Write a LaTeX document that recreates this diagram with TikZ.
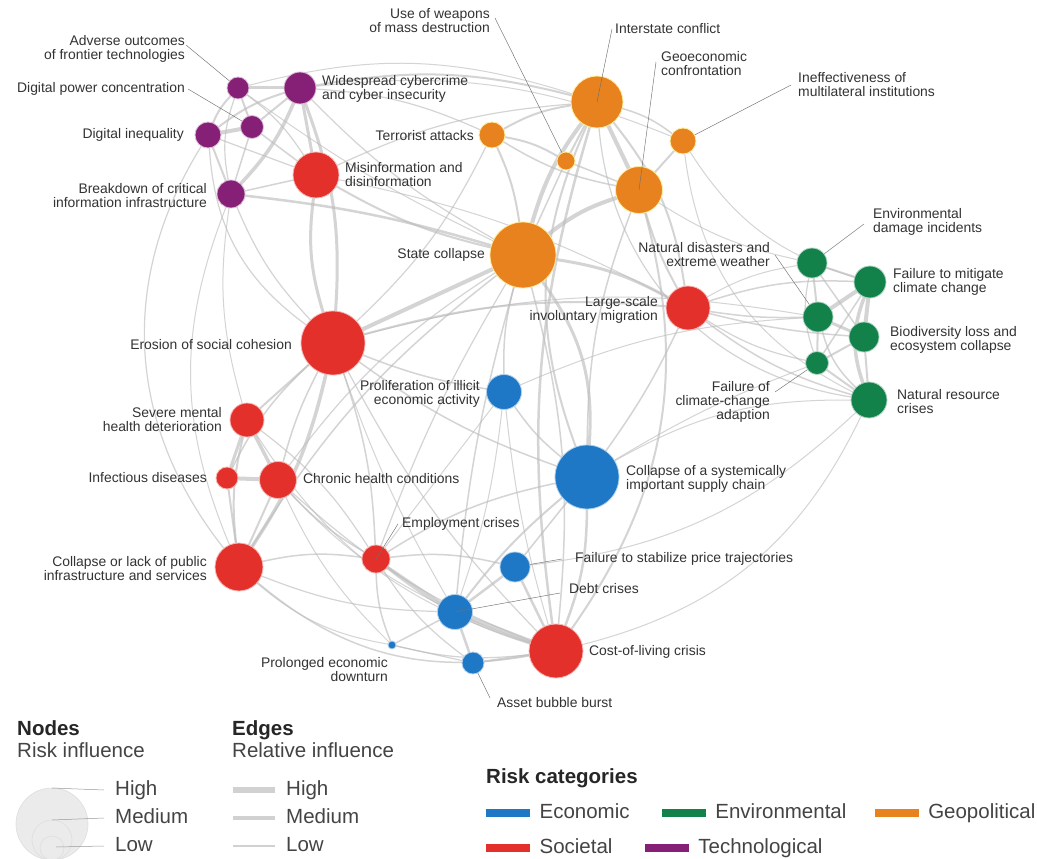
\documentclass[tikz,border=0pt]{standalone}
\usepackage{fontspec}
\setmainfont{Liberation Sans}
\usetikzlibrary{positioning,backgrounds}
\definecolor{cEcon}{HTML}{1E78C6}
\definecolor{cEnv}{HTML}{12824A}
\definecolor{cGeo}{HTML}{E8821F}
\definecolor{cSoc}{HTML}{E4302B}
\definecolor{cTech}{HTML}{862077}
\definecolor{cEdge}{HTML}{BDBDBD}
\definecolor{cText}{HTML}{333333}
\definecolor{cLead}{HTML}{707070}
\definecolor{cLeg}{HTML}{444444}
\newcommand{\lblfont}{\fontsize{13.9}{14}\selectfont}
\newcommand{\legfont}{\fontsize{20.5}{22}\selectfont}

\begin{document}
\begin{tikzpicture}[x=1pt, y=-1pt,
      risk/.style={circle, inner sep=0pt, minimum size=#1, line width=0.8pt},
      econ/.style={fill=cEcon, draw=cEcon!35!white},
      envir/.style={fill=cEnv, draw=cEnv!35!white},
      geopol/.style={fill=cGeo, draw=cGeo!35!yellow!40!white},
      societal/.style={fill=cSoc, draw=cSoc!35!white},
      techno/.style={fill=cTech, draw=cTech!30!white},
      lbl/.style={font=\lblfont, text=cText, inner sep=1pt, align=left},
      lblr/.style={lbl, align=right},
      lead/.style={draw=cLead, line width=0.45pt},
      lk/.style={draw=cEdge, line width=#1, line cap=round, draw opacity=0.65},
      swatch/.style={rectangle, inner sep=0pt, minimum width=44pt, minimum height=8pt},
      legtxt/.style={font=\legfont, text=cLeg, inner sep=0pt, text height=14pt, text depth=4pt},
      leghead/.style={legtxt, font=\legfont\bfseries, text=black!85},
      legc/.style={fill=black!8, draw=black!13, line width=0.6pt},
      legln/.style={draw=black!40, line width=0.5pt}
  ]
    \useasboundingbox (0,0) rectangle (1037,859);

    % risks
    \node[risk=22pt, techno] (adv) at (238,88) {};
    \node[risk=32pt, techno] (cyber) at (300,88) {};
    \node[risk=23pt, techno] (dpc) at (252,127) {};
    \node[risk=26pt, techno] (dineq) at (208,135) {};
    \node[risk=28pt, techno] (bcii) at (231,194) {};
    \node[risk=46pt, societal] (misinfo) at (316,175) {};
    \node[risk=64pt, societal] (erosion) at (333,343) {};
    \node[risk=34pt, societal] (mental) at (247,420) {};
    \node[risk=22pt, societal] (infect) at (227,478) {};
    \node[risk=37pt, societal] (chronic) at (278,480) {};
    \node[risk=48pt, societal] (pubinf) at (239,567) {};
    \node[risk=28pt, societal] (employ) at (376,559) {};
    \node[risk=44pt, societal] (migr) at (688,308) {};
    \node[risk=54pt, societal] (col) at (556,651) {};
    \node[risk=26pt, geopol] (terror) at (492,135) {};
    \node[risk=52pt, geopol] (interstate) at (597,102) {};
    \node[risk=18pt, geopol] (wmd) at (566,161) {};
    \node[risk=26pt, geopol] (ineff) at (683,141) {};
    \node[risk=47pt, geopol] (geoc) at (639,190) {};
    \node[risk=66pt, geopol] (state) at (523,255) {};
    \node[risk=35pt, econ] (illicit) at (504,392) {};
    \node[risk=64pt, econ] (supply) at (587,477) {};
    \node[risk=30pt, econ] (price) at (515,567) {};
    \node[risk=35pt, econ] (debt) at (455,612) {};
    \node[risk=22pt, econ] (asset) at (473,663) {};
    \node[risk=8pt, econ] (prolonged) at (392,645) {};
    \node[risk=30pt, envir] (envdmg) at (812,263) {};
    \node[risk=32pt, envir] (mitig) at (870,282) {};
    \node[risk=30pt, envir] (natdis) at (818,317) {};
    \node[risk=30pt, envir] (biod) at (864,337) {};
    \node[risk=23pt, envir] (adapt) at (817,363) {};
    \node[risk=36pt, envir] (natres) at (869,400) {};

    % labels
    \node[lblr, anchor=east] (advL) at (186,49) {Adverse outcomes\\of frontier technologies};
    \node[lbl, anchor=east] (dpcL) at (186,89) {Digital power concentration};
    \node[lbl, anchor=east] (dineqL) at (185,135) {Digital inequality};
    \node[lblr, anchor=east] (bciiL) at (208,196) {Breakdown of critical\\information infrastructure};
    \node[lbl, anchor=west] (cyberL) at (321,89) {Widespread cybercrime\\and cyber insecurity};
    \node[lbl, anchor=west] (misinfoL) at (344,175) {Misinformation and\\disinformation};
    \node[lblr, anchor=east] (wmdL) at (491,21) {Use of weapons\\of mass destruction};
    \node[lbl, anchor=west] (interstateL) at (614,29) {Interstate conflict};
    \node[lbl, anchor=west] (geoL) at (660,64) {Geoeconomic\\confrontation};
    \node[lbl, anchor=west] (ineffL) at (797,85) {Ineffectiveness of\\multilateral institutions};
    \node[lbl, anchor=east] (terrorL) at (475,136) {Terrorist attacks};
    \node[lbl, anchor=east] (stateL) at (486,255) {State collapse};
    \node[lbl, anchor=west] (envdmgL) at (872,222) {Environmental\\damage incidents};
    \node[lblr, anchor=east] (natdisL) at (771,255) {Natural disasters and\\extreme weather};
    \node[lbl, anchor=west] (mitigL) at (892,282) {Failure to mitigate\\climate change};
    \node[lblr, anchor=east] (migrL) at (659,310) {Large-scale\\involuntary migration};
    \node[lbl, anchor=west] (biodL) at (889,340) {Biodiversity loss and\\ecosystem collapse};
    \node[lbl, anchor=east] (erosionL) at (293,345) {Erosion of social cohesion};
    \node[lblr, anchor=east] (illicitL) at (481,394) {Proliferation of illicit\\economic activity};
    \node[lblr, anchor=east] (adaptL) at (771,402) {Failure of\\climate-change\\adaption};
    \node[lbl, anchor=west] (natresL) at (896,402) {Natural resource\\crises};
    \node[lblr, anchor=east] (mentalL) at (223,420) {Severe mental\\health deterioration};
    \node[lbl, anchor=east] (infectL) at (208,478) {Infectious diseases};
    \node[lbl, anchor=west] (chronicL) at (302,479) {Chronic health conditions};
    \node[lbl, anchor=west] (supplyL) at (625,479) {Collapse of a systemically\\important supply chain};
    \node[lbl, anchor=west] (employL) at (401,524) {Employment crises};
    \node[lbl, anchor=west] (priceL) at (574,559) {Failure to stabilize price trajectories};
    \node[lblr, anchor=east] (pubinfL) at (208,569) {Collapse or lack of public\\infrastructure and services};
    \node[lbl, anchor=west] (debtL) at (568,589) {Debt crises};
    \node[lbl, anchor=west] (colL) at (588,652) {Cost-of-living crisis};
    \node[lblr, anchor=east] (prolongedL) at (389,670) {Prolonged economic\\downturn};
    \node[lbl, anchor=west] (assetL) at (496,703) {Asset bubble burst};

    \begin{scope}[on background layer]
      \fill[white] (0,0) rectangle (1037,859);
      % technological cluster
      \foreach \a/\b/\w/\c in {adv/cyber/3/0, adv/dpc/2/0, adv/dineq/2/-10, dineq/dpc/4/0, dineq/cyber/2/10,
          dpc/cyber/2/0, bcii/cyber/3.5/-10, bcii/dineq/2/0, bcii/adv/1.2/15, bcii/dpc/1.5/0,
          cyber/misinfo/3/0, dpc/misinfo/1.5/0, dineq/misinfo/1.2/0, bcii/misinfo/1.5/0, adv/misinfo/1.2/10,
          cyber/erosion/3/12, misinfo/erosion/3/-12, dineq/erosion/1.2/-25, bcii/erosion/1.2/-10,
          dineq/pubinf/1.2/-35, bcii/pubinf/1/-22, bcii/mental/1/-12, cyber/terror/1.2/10, cyber/interstate/2/12,
          adv/interstate/1/16, misinfo/state/2/-8, bcii/state/2.5/5, misinfo/migr/1/8, cyber/state/1.2/-8,
          adv/state/1/-5, misinfo/interstate/1.2/10, cyber/ineff/1/14}
        \draw[lk=\w pt] (\a) to[bend left=\c] (\b);
      % geopolitical cluster
      \foreach \a/\b/\w/\c in {interstate/geoc/4/0, interstate/state/4/-10, interstate/terror/2/-10, interstate/wmd/2/0,
          interstate/ineff/1.5/10, geoc/state/4/-10, geoc/ineff/2/0, terror/state/2/8, wmd/state/1.5/0,
          terror/wmd/2/10, terror/geoc/1.5/-10, wmd/geoc/1.5/0, interstate/migr/2/15, geoc/migr/2/-6,
          state/migr/3/10, state/erosion/4/0, state/illicit/1.5/-8, state/supply/3/20, interstate/supply/2/-22,
          geoc/supply/1.5/-10, geoc/col/2/25, interstate/natres/1.2/-38, ineff/natres/1/-28, ineff/mitig/1/-20,
          state/pubinf/1.5/-10, state/chronic/1.2/-10, state/employ/1.2/-5, state/debt/1.5/-5, state/col/1.5/10,
          interstate/col/2.5/-12, terror/erosion/1.2/10, geoc/envdmg/1/-10}
        \draw[lk=\w pt] (\a) to[bend left=\c] (\b);
      % environmental cluster
      \foreach \a/\b/\w/\c in {envdmg/mitig/2/0, envdmg/natdis/2/0, mitig/natdis/4/0, mitig/biod/4/0, natdis/biod/3/0,
          biod/adapt/2/0, adapt/natdis/2/0, mitig/natres/3.5/-20, biod/natres/2/0, adapt/natres/2/0,
          natdis/natres/1.5/-15, envdmg/biod/1.5/0, envdmg/adapt/1.2/-15, mitig/adapt/1.5/0,
          migr/natdis/1.5/-5, migr/mitig/1.5/10, migr/biod/1.5/-5, migr/natres/1.5/-10, migr/adapt/1.2/-10,
          migr/envdmg/1/10, supply/natres/1/15, supply/adapt/1/5, col/natres/1/-25, illicit/natdis/1/10,
          erosion/natdis/1/12, price/natres/1/-18}
        \draw[lk=\w pt] (\a) to[bend left=\c] (\b);
      % societal cluster
      \foreach \a/\b/\w/\c in {erosion/mental/2/0, erosion/chronic/1.5/-6, erosion/pubinf/3.5/10, erosion/employ/1.5/8,
          erosion/migr/2/10, erosion/illicit/1.5/-6, erosion/supply/1.5/-8, erosion/infect/1.5/-10,
          mental/chronic/3.5/0, mental/infect/3/0, infect/chronic/4/0, chronic/pubinf/2/0, infect/pubinf/2/0,
          mental/pubinf/2/-10, pubinf/employ/1.5/10, pubinf/col/1.5/-25, pubinf/debt/1.2/-10, chronic/employ/1.5/-8,
          chronic/col/1.2/-10, mental/col/1/-20, employ/col/3/-10, employ/debt/2/0, employ/price/1.5/10,
          employ/prolonged/1.5/-10, employ/supply/1.5/10, employ/asset/1.2/-10, mental/employ/1.2/10,
          erosion/col/1.2/-8, erosion/debt/1/-5}
        \draw[lk=\w pt] (\a) to[bend left=\c] (\b);
      % economic cluster
      \foreach \a/\b/\w/\c in {debt/col/4/0, debt/asset/2.5/0, debt/price/2.5/0, price/col/2.5/0, asset/col/2/0,
          prolonged/debt/1.5/0, prolonged/col/1.2/-10, prolonged/asset/1.2/0, supply/col/2.5/10, supply/price/1.5/0,
          supply/debt/2/-6, illicit/supply/1.5/-8, illicit/col/1/-5, illicit/debt/1/6, supply/migr/1.5/-5,
          illicit/employ/1/0, chronic/debt/1/-10, pubinf/prolonged/1/-15, chronic/prolonged/1/-10}
        \draw[lk=\w pt] (\a) to[bend left=\c] (\b);
      % leaders under the nodes
      \draw[lead] ([yshift=4pt]advL.east) -- (adv.center);
      \draw[lead] ([xshift=2pt]dpcL.east) -- (dpc.center);
      \draw[lead] ([xshift=4pt,yshift=3pt]wmdL.east) -- (wmd.center);
      \draw[lead] ([xshift=-6pt]ineffL.west) -- (ineff.center);
      \draw[lead] ([xshift=-8pt,yshift=-2pt]envdmgL.west) -- (envdmg.center);
      \draw[lead] ([xshift=4pt]natdisL.east) -- (natdis.center);
      \draw[lead] ([xshift=4pt,yshift=10pt]adaptL.east) -- (adapt.center);
      \draw[lead] ([xshift=-12pt]priceL.west) -- (price.center);
      \draw[lead] ([xshift=-6pt,yshift=5pt]assetL.west) -- (asset.center);
    \end{scope}

    % leaders over the nodes
    \draw[lead] ([xshift=-2pt]interstateL.west) -- (interstate.center);
    \draw[lead] ([xshift=-4pt,yshift=2pt]geoL.west) -- (geoc.center);
    \draw[lead] ([xshift=-3pt]employL.west) -- (employ.center);
    \draw[lead] ([xshift=-8pt,yshift=-4pt]debtL.west) -- (debt.center);

    % legend: nodes
    \node[leghead, anchor=west] (nodesH) at (17,730) {Nodes};
    \node[legtxt, anchor=west] (nodesS) at (17,752) {Risk influence};
    \draw[legc] (52,824) circle[radius=36];
    \draw[legc] (52,840) circle[radius=20];
    \draw[legc] (52,848) circle[radius=12];
    \node[legtxt, anchor=west] (nHigh) at (115,790) {High};
    \node[legtxt, anchor=west] (nMed) at (115,818) {Medium};
    \node[legtxt, anchor=west] (nLow) at (115,846) {Low};
    \draw[legln] (52,788) -- ([xshift=-11pt]nHigh.west);
    \draw[legln] (52,820) -- ([xshift=-11pt]nMed.west);
    \draw[legln] (56,847) -- ([xshift=-11pt]nLow.west);

    % legend: edges
    \node[leghead, anchor=west] (edgesH) at (232,730) {Edges};
    \node[legtxt, anchor=west] (edgesS) at (232,752) {Relative influence};
    \node[legtxt, anchor=west] (eHigh) at (286,790) {High};
    \node[legtxt, anchor=west] (eMed) at (286,818) {Medium};
    \node[legtxt, anchor=west] (eLow) at (286,846) {Low};
    \draw[draw=black!18, line width=6pt] ([xshift=-11pt]eHigh.west) -- ++(-42,0);
    \draw[draw=black!18, line width=3.5pt] ([xshift=-11pt]eMed.west) -- ++(-42,0);
    \draw[draw=black!18, line width=1.2pt] ([xshift=-11pt]eLow.west) -- ++(-42,0);

    % legend: categories
    \node[leghead, anchor=west] (catH) at (486,778) {Risk categories};
    \node[swatch, fill=cEcon, anchor=west] (swEcon) at (486,813) {};
    \node[legtxt, right=9pt of swEcon] (tEcon) {Economic};
    \node[swatch, fill=cEnv, right=32pt of tEcon] (swEnv) {};
    \node[legtxt, right=9pt of swEnv] (tEnv) {Environmental};
    \node[swatch, fill=cGeo, right=28pt of tEnv] (swGeo) {};
    \node[legtxt, right=9pt of swGeo] (tGeo) {Geopolitical};
    \node[swatch, fill=cSoc, anchor=west] (swSoc) at (486,848) {};
    \node[legtxt, right=9pt of swSoc] (tSoc) {Societal};
    \node[swatch, fill=cTech, right=32pt of tSoc] (swTech) {};
    \node[legtxt, right=9pt of swTech] (tTech) {Technological};
  \end{tikzpicture}
\end{document}
